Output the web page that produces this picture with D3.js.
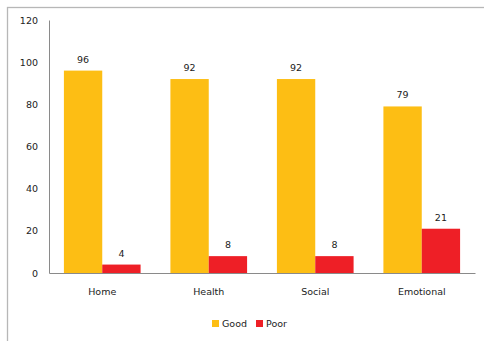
<!DOCTYPE html>
<html>
<head>
<meta charset="utf-8">
<script src="https://cdn.jsdelivr.net/npm/d3@7"></script>
<style>
  html, body { margin: 0; padding: 0; background: #fff; }
  svg { display: block; font-family: "DejaVu Sans", Verdana, sans-serif; }
</style>
</head>
<body>
<svg id="chart" width="484" height="341"></svg>
<script>
// Survey outcomes by domain
const categories = ["Home", "Health", "Social", "Emotional"];
const seriesNames = ["Good", "Poor"];
const goodValues = [96, 92, 92, 79];
const poorValues = [4, 8, 8, 21];
const yTicks = [0, 20, 40, 60, 80, 100, 120];
const colors = ["#FDBE14", "#EE1F26"];

const svg = d3.select("#chart");
const W = 484, H = 341;

// outer frame (extends past the right and bottom edges)
svg.append("rect")
  .attr("x", 7.5).attr("y", 7.5)
  .attr("width", W + 10).attr("height", H + 10)
  .attr("fill", "#fff").attr("stroke", "#b7b7b7").attr("stroke-width", 1.3);

const plot = { left: 49, right: 475, top: 20, bottom: 273 };

const x = d3.scaleBand().domain(categories).range([plot.left, plot.right]).paddingInner(0.28).paddingOuter(0.14);
const xs = d3.scaleBand().domain(seriesNames).range([0, x.bandwidth()]);
const y = d3.scaleLinear().domain([0, 120]).range([plot.bottom, plot.top]);

const rows = categories.map((c, i) => ({ cat: c, vals: [goodValues[i], poorValues[i]] }));

const groups = svg.append("g").selectAll("g").data(rows).join("g")
  .attr("transform", d => `translate(${x(d.cat)},0)`);

groups.selectAll("rect").data(d => d.vals.map((v, k) => ({ v, k }))).join("rect")
  .attr("x", d => xs(seriesNames[d.k]))
  .attr("y", d => y(d.v))
  .attr("width", xs.bandwidth())
  .attr("height", d => y(0) - y(d.v))
  .attr("fill", d => colors[d.k]);

groups.selectAll("text").data(d => d.vals.map((v, k) => ({ v, k }))).join("text")
  .attr("x", d => xs(seriesNames[d.k]) + xs.bandwidth() / 2)
  .attr("y", d => y(d.v) - 8)
  .attr("text-anchor", "middle")
  .attr("font-size", "9.5px").attr("fill", "#222")
  .text(d => d.v);

// y axis
const yAxis = svg.append("g").attr("transform", `translate(${plot.left},0)`)
  .call(d3.axisLeft(y).tickValues(yTicks).tickSize(0).tickPadding(11));
yAxis.select(".domain").attr("stroke", "#8a8a8a");
yAxis.selectAll("text").attr("font-size", "9.5px").attr("fill", "#222").attr("font-family", "DejaVu Sans, Verdana, sans-serif");

// x axis
const xAxis = svg.append("g").attr("transform", `translate(0,${plot.bottom})`)
  .call(d3.axisBottom(x.copy().paddingInner(0).paddingOuter(0)).tickSize(0).tickPadding(15));
xAxis.select(".domain").attr("stroke", "#8a8a8a");
xAxis.selectAll("text").attr("font-size", "9.5px").attr("fill", "#222").attr("font-family", "DejaVu Sans, Verdana, sans-serif");

// legend
const legend = svg.append("g").attr("transform", "translate(212,320)");
const legendX = [0, 44];
seriesNames.forEach((s, k) => {
  const g = legend.append("g").attr("transform", `translate(${legendX[k]},0)`);
  g.append("rect").attr("x", 0).attr("y", 0).attr("width", 7).attr("height", 7).attr("fill", colors[k]);
  g.append("text").attr("x", 10).attr("y", 7).attr("font-size", "9.5px").attr("fill", "#222").text(s);
});
</script>
</body>
</html>
